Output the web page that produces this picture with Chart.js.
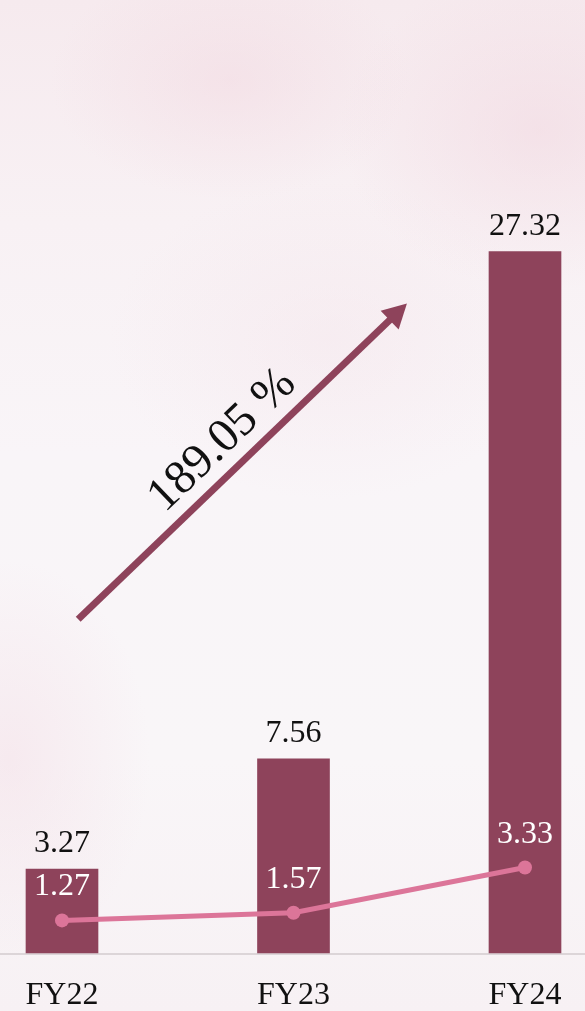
<!DOCTYPE html>
<html><head><meta charset="utf-8">
<script src="https://cdn.jsdelivr.net/npm/chart.js@4.4.1/dist/chart.umd.min.js"></script>
<style>
html,body{margin:0;padding:0;width:585px;height:1011px;overflow:hidden;}
body{
  background:
    radial-gradient(ellipse 180px 120px at 230px 80px, rgba(240,208,218,0.35), rgba(240,208,218,0) 100%),
    radial-gradient(ellipse 200px 160px at 540px 130px, rgba(240,210,220,0.45), rgba(240,210,220,0) 100%),
    radial-gradient(ellipse 140px 200px at 10px 760px, rgba(242,215,225,0.4), rgba(242,215,225,0) 100%),
    radial-gradient(ellipse 220px 160px at 330px 340px, rgba(243,224,231,0.35), rgba(243,224,231,0) 100%),
    linear-gradient(to bottom, #f6eaee 0%, #f8f1f4 22%, #f9f5f8 45%, #f9f6f8 75%, #f7f1f4 100%);
}
#wrap{position:relative;width:585px;height:1011px;overflow:hidden;}
canvas{display:block;}
</style></head>
<body><div id="wrap"><canvas id="c" width="585" height="1011"></canvas></div>
<script>
const categories = ['FY22', 'FY23', 'FY24'];
const barValues = [3.27, 7.56, 27.32];
const lineValues = [1.27, 1.57, 3.33];
const growthLabel = '189.05 %';
// arrow annotation anchors in data space (category index, value)
const arrowStart = [0.07, 13.0];
const arrowEnd = [1.49, 25.3];

const BAR_COLOR = '#8e435b';
const LINE_COLOR = '#dc7599';
const FONT = "'Liberation Serif', 'Times New Roman', serif";

const decoPlugin = {
  id: 'deco',
  beforeDatasetsDraw(chart) {
    const ctx = chart.ctx;
    const y = Math.round(chart.scales.y.getPixelForValue(0)) + 1;
    ctx.save();
    ctx.strokeStyle = '#dcd5d8';
    ctx.lineWidth = 2;
    ctx.beginPath();
    ctx.moveTo(0, y);
    ctx.lineTo(chart.width, y);
    ctx.stroke();
    ctx.restore();
  },
  afterDatasetsDraw(chart) {
    const ctx = chart.ctx;
    const xs = chart.scales.x, ys = chart.scales.y;
    ctx.save();
    ctx.font = '32px ' + FONT;
    ctx.textAlign = 'center';
    ctx.textBaseline = 'alphabetic';
    const barMeta = chart.getDatasetMeta(0);
    ctx.fillStyle = '#111111';
    barMeta.data.forEach((el, i) => {
      ctx.fillText(barValues[i].toFixed(2), el.x, el.y - 17);
    });
    const lineMeta = chart.getDatasetMeta(1);
    ctx.fillStyle = '#ffffff';
    lineMeta.data.forEach((el, i) => {
      ctx.fillText(lineValues[i].toFixed(2), el.x, el.y - 25);
    });
    const x1 = xs.getPixelForValue(arrowStart[0]), y1 = ys.getPixelForValue(arrowStart[1]);
    const x2 = xs.getPixelForValue(arrowEnd[0]), y2 = ys.getPixelForValue(arrowEnd[1]);
    const ang = Math.atan2(y2 - y1, x2 - x1);
    const len = Math.hypot(x2 - x1, y2 - y1);
    const headLen = 24, headHalf = 13;
    ctx.translate(x1, y1);
    ctx.rotate(ang);
    ctx.strokeStyle = BAR_COLOR;
    ctx.fillStyle = BAR_COLOR;
    ctx.lineWidth = 7;
    ctx.beginPath();
    ctx.moveTo(0, 0);
    ctx.lineTo(len - headLen + 2, 0);
    ctx.stroke();
    ctx.beginPath();
    ctx.moveTo(len, 0);
    ctx.lineTo(len - headLen, -headHalf);
    ctx.lineTo(len - headLen, headHalf);
    ctx.closePath();
    ctx.fill();
    ctx.fillStyle = '#111111';
    ctx.font = '48px ' + FONT;
    ctx.textAlign = 'center';
    ctx.textBaseline = 'middle';
    ctx.fillText(growthLabel, len * 0.5, -29);
    ctx.restore();
  }
};

new Chart(document.getElementById('c'), {
  data: {
    labels: categories,
    datasets: [
      {
        type: 'bar',
        data: barValues,
        backgroundColor: BAR_COLOR,
        barThickness: 72,
        clip: false,
        order: 2
      },
      {
        type: 'line',
        data: lineValues,
        borderColor: LINE_COLOR,
        backgroundColor: LINE_COLOR,
        borderWidth: 5,
        pointRadius: 7,
        pointBackgroundColor: LINE_COLOR,
        pointBorderWidth: 0,
        tension: 0,
        clip: false,
        order: 1
      }
    ]
  },
  options: {
    responsive: false,
    animation: false,
    layout: { autoPadding: false, padding: { left: 62, right: 60, top: 0, bottom: -28 } },
    plugins: { legend: { display: false }, tooltip: { enabled: false } },
    scales: {
      x: {
        type: 'category',
        offset: false,
        grid: { display: false, drawTicks: false },
        border: { display: false },
        afterFit(scale) { scale.paddingLeft = 0; scale.paddingRight = 0; },
        ticks: {
          color: '#111111',
          font: { family: FONT, size: 32, lineHeight: 1 },
          padding: 27,
          maxRotation: 0,
          autoSkip: false
        }
      },
      y: { display: false, min: 0, max: 37.12 }
    }
  },
  plugins: [decoPlugin]
});
</script>
</body></html>
